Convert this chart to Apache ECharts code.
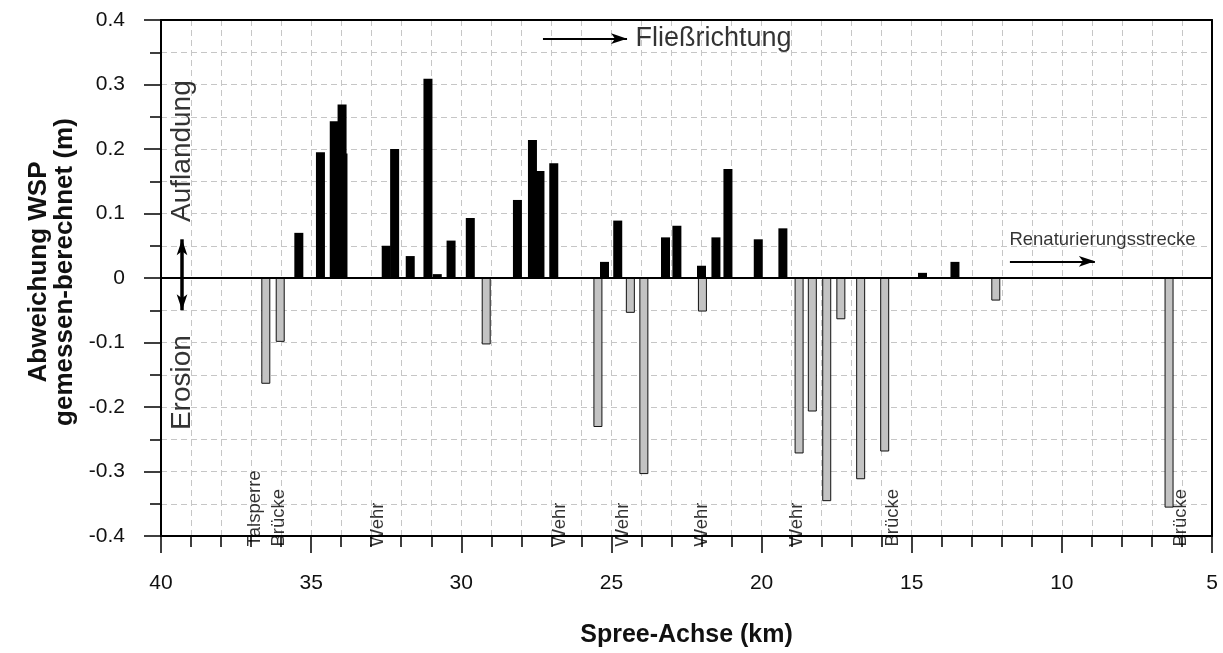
<!DOCTYPE html>
<html>
<head>
<meta charset="utf-8">
<script src="https://cdn.jsdelivr.net/npm/echarts@6/dist/echarts.min.js"></script>
<style>
html,body{margin:0;padding:0;background:#fff;}
#c{width:1223px;height:653px;}
</style>
</head>
<body>
<div id="c"></div>
<script>
// ---- data (km along the Spree, deviation measured - computed in m) ----
const posKm  = [35.41, 34.69, 33.94, 34.23, 33.97, 32.50, 32.22, 31.70, 31.11, 30.80, 30.34, 29.70, 28.13, 27.63, 27.38, 26.92, 25.23, 24.79, 23.20, 22.82, 22.00, 21.52, 21.12, 20.11, 19.29, 14.64, 13.56];
const posVal = [0.070, 0.195, 0.193, 0.243, 0.269, 0.050, 0.200, 0.034, 0.309, 0.006, 0.058, 0.093, 0.121, 0.214, 0.166, 0.178, 0.025, 0.089, 0.063, 0.081, 0.019, 0.063, 0.169, 0.060, 0.077, 0.008, 0.025];
const negKm  = [36.51, 36.03, 29.17, 25.45, 24.37, 23.92, 21.97, 18.75, 18.31, 17.83, 17.36, 16.70, 15.90, 12.20, 6.43];
const negVal = [-0.164, -0.099, -0.103, -0.231, -0.054, -0.304, -0.052, -0.272, -0.207, -0.346, -0.064, -0.312, -0.269, -0.035, -0.356];

// structure labels along the bottom
const structKm   = [36.87, 36.05, 32.76, 26.70, 24.60, 21.97, 18.80, 15.61, 6.02];
const structText = ['Talsperre', 'Brücke', 'Wehr', 'Wehr', 'Wehr', 'Wehr', 'Wehr', 'Brücke', 'Brücke'];
const structY = -0.417;

// annotations
const sideKm = 39.27;
const sideText = ['Auflandung', 'Erosion'];
const sideY = [0.196, -0.163];
const flowArrow = [[27.28, 0.371], [24.48, 0.371]];
const flowText = ['Fließrichtung', 24.18, 0.370];
const renatArrow = [[11.73, 0.0258], [8.90, 0.0258]];
const renatText = ['Renaturierungsstrecke', 11.73, 0.058];
const dblArrow = [[39.30, 0.0], [39.30, 0.060], [39.30, -0.050]];

const xTicks = [40, 35, 30, 25, 20, 15, 10, 5];
const yTicks = [-0.4, -0.3, -0.2, -0.1, 0, 0.1, 0.2, 0.3, 0.4];

const FONT = '"Liberation Sans", Arial, Helvetica, sans-serif';
const gridLine = {color: '#c6c6c6', type: [6, 4], width: 1};

const chart = echarts.init(document.getElementById('c'), null, {renderer: 'canvas'});

const labelData = [];
structKm.forEach((k, i) => {
  labelData.push({
    value: [k, structY],
    label: {show: true, formatter: structText[i], rotate: 90, position: [0, 0],
      align: 'left', verticalAlign: 'middle', fontSize: 18.5, color: '#000', fontFamily: FONT}
  });
});
sideText.forEach((t, i) => {
  labelData.push({
    value: [sideKm, sideY[i]],
    label: {show: true, formatter: t, rotate: 90, position: [0, 0],
      align: 'center', verticalAlign: 'middle', fontSize: 28, color: '#000', fontFamily: FONT}
  });
});
[flowText, renatText].forEach((t, i) => {
  labelData.push({
    value: [t[1], t[2]],
    label: {show: true, formatter: t[0], rotate: 0, position: [0, 0],
      align: 'left', verticalAlign: 'middle', fontSize: i === 0 ? 27 : 18.5, color: '#000', fontFamily: FONT}
  });
});

const option = {
  animation: false,
  backgroundColor: '#fff',
  grid: {left: 161, right: 11, top: 20, bottom: 105, show: false},
  xAxis: [{
    type: 'value', min: 5, max: 40, interval: 5, inverse: true,
    axisLine: {show: true, onZero: false, lineStyle: {color: '#000', width: 2}},
    axisTick: {show: true, length: 17, lineStyle: {color: '#000', width: 1.5}},
    minorTick: {show: true, splitNumber: 5, length: 11, lineStyle: {color: '#000', width: 1.5}},
    splitLine: {show: true, showMinLine: false, showMaxLine: false, lineStyle: gridLine},
    minorSplitLine: {show: true, lineStyle: gridLine},
    axisLabel: {fontSize: 21, color: '#111', margin: 37, fontFamily: FONT,
      formatter: v => xTicks.indexOf(v) >= 0 ? String(v) : ''},
    name: 'Spree-Achse (km)', nameLocation: 'middle', nameGap: 87,
    nameTextStyle: {fontSize: 25, fontWeight: 'bold', color: '#111', fontFamily: FONT}
  }, {
    // top frame line
    type: 'value', min: 5, max: 40, inverse: true, position: 'top',
    axisLine: {show: true, onZero: false, lineStyle: {color: '#000', width: 2}},
    axisTick: {show: false}, axisLabel: {show: false}, splitLine: {show: false}
  }],
  yAxis: [{
    type: 'value', min: -0.4, max: 0.4, interval: 0.1,
    axisLine: {show: true, onZero: false, lineStyle: {color: '#000', width: 2}},
    axisTick: {show: true, length: 17, lineStyle: {color: '#000', width: 1.5}},
    minorTick: {show: true, splitNumber: 2, length: 11, lineStyle: {color: '#000', width: 1.5}},
    splitLine: {show: true, showMinLine: false, showMaxLine: false, lineStyle: gridLine},
    minorSplitLine: {show: true, lineStyle: gridLine},
    axisLabel: {fontSize: 21, color: '#111', margin: 36, fontFamily: FONT,
      formatter: v => {
        const r = Math.round(v * 10) / 10;
        const t = yTicks.find(y => Math.abs(y - r) < 1e-9);
        return t === undefined ? '' : (t === 0 ? '0' : t.toFixed(1));
      }},
    name: 'Abweichung WSP\ngemessen-berechnet (m)', nameLocation: 'middle', nameGap: 50, nameRotate: 90,
    nameTextStyle: {fontSize: 26, fontWeight: 'bold', color: '#111', lineHeight: 26, fontFamily: FONT, padding: [0, 0, 0, 12]}
  }, {
    // right frame line
    type: 'value', min: -0.4, max: 0.4, position: 'right',
    axisLine: {show: true, onZero: false, lineStyle: {color: '#000', width: 2}},
    axisTick: {show: false}, axisLabel: {show: false}, splitLine: {show: false}
  }],
  series: [
    {
      type: 'bar', name: 'Auflandung', barWidth: 9, barGap: '-100%',
      data: posKm.map((k, i) => [k, posVal[i]]),
      itemStyle: {color: '#000'},
      emphasis: {disabled: true},
      z: 3,
      markLine: {
        silent: true, symbol: ['none', 'none'], label: {show: false},
        lineStyle: {color: '#000', width: 2, type: 'solid'},
        data: [[{coord: [40, 0]}, {coord: [5, 0]}]],
        z: 5
      }
    },
    {
      type: 'bar', name: 'Erosion', barWidth: 9, barGap: '-100%',
      data: negKm.map((k, i) => [k, negVal[i]]),
      itemStyle: {color: '#c3c3c3', borderColor: '#111', borderWidth: 1},
      emphasis: {disabled: true},
      z: 3
    },
    {
      type: 'scatter', name: 'annotations', symbolSize: 1, clip: false,
      itemStyle: {color: 'rgba(0,0,0,0)'},
      data: labelData,
      emphasis: {disabled: true},
      silent: true,
      z: 6,
      markLine: {
        silent: true, label: {show: false},
        symbol: ['none', 'arrow'],
        data: [
          [{coord: flowArrow[0], lineStyle: {width: 2}, symbolSize: [13, 18]}, {coord: flowArrow[1]}],
          [{coord: renatArrow[0], lineStyle: {width: 2}, symbolSize: [13, 18]}, {coord: renatArrow[1]}],
          [{coord: dblArrow[0], lineStyle: {width: 3.5}, symbolSize: [16, 22]}, {coord: dblArrow[1]}],
          [{coord: dblArrow[0], lineStyle: {width: 3.5}, symbolSize: [16, 22]}, {coord: dblArrow[2]}]
        ],
        lineStyle: {color: '#000', type: 'solid'},
        itemStyle: {color: '#000'},
        z: 6
      }
    }
  ]
};
chart.setOption(option);
</script>
</body>
</html>
